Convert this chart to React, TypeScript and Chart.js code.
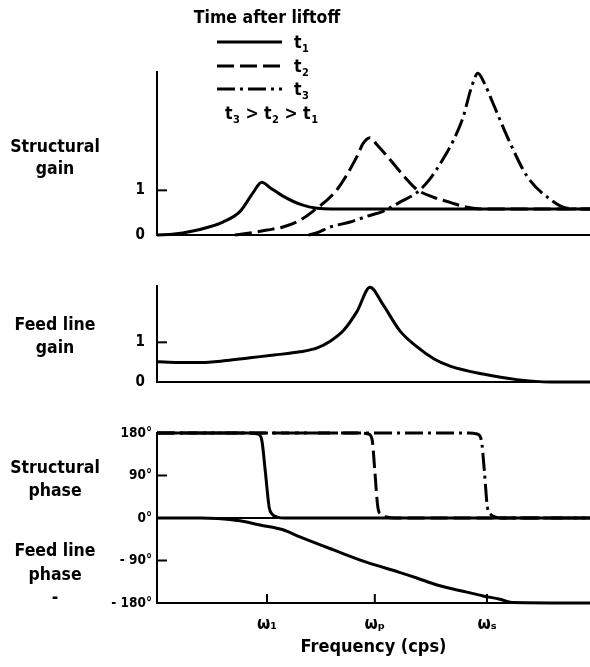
import React, { useEffect, useRef } from "react";
import { Chart, registerables } from "chart.js";

Chart.register(...registerables);

const FONT = "'DejaVu Sans Condensed', 'Liberation Sans Narrow', 'Roboto Condensed', 'DejaVu Sans', sans-serif";

// ---- shared frequency axis ----
const X_MIN = 0;
const X_MAX = 100;
const freqTickValues = [25.4, 50.3, 76.2];
const freqTickLabels = ["ω₁", "ωₚ", "ωₛ"];
const freqTitle = "Frequency (cps)";

// ---- legend ----
const legendTitle = "Time after liftoff";
const seriesSubs = ["1", "2", "3"];

// ---- structural gain ----
const sgTicks = [0, 1];
const sgTickLabels = ["0", "1"];
const sgT1X = [0, 4, 8.3, 12, 15.2, 19.2, 22.2, 24.2, 26.1, 29.1, 33, 37, 45, 100];
const sgT1Y = [0, 0.02, 0.09, 0.18, 0.29, 0.53, 0.95, 1.18, 1.06, 0.87, 0.69, 0.6, 0.58, 0.58];
const sgT2X = [18, 21, 25.4, 29.1, 33, 36, 41.6, 46.2, 47.6, 49.2, 50.8, 53.8, 57, 60, 64, 67.7, 71.6, 75, 100];
const sgT2Y = [0, 0.04, 0.11, 0.18, 0.33, 0.53, 1.02, 1.76, 2.05, 2.18, 2.02, 1.69, 1.32, 1.02, 0.84, 0.73, 0.62, 0.58, 0.58];
const sgT3X = [35, 37, 40, 44.6, 48.5, 52.2, 56, 60, 63, 66, 68.5, 70.7, 72.6, 74.1, 75.6, 77.6, 81.5, 85.5, 90.8, 94.7, 100];
const sgT3Y = [0, 0.05, 0.18, 0.29, 0.42, 0.53, 0.73, 0.95, 1.25, 1.69, 2.13, 2.64, 3.3, 3.62, 3.4, 2.95, 2.07, 1.31, 0.8, 0.6, 0.58];

// ---- feed line gain ----
const fgTicks = [0, 1];
const fgTickLabels = ["0", "1"];
const fgX = [0, 5, 10, 16, 21.5, 27, 33, 37, 40, 43, 46.2, 49.2, 52.2, 56.1, 60, 64, 67.7, 75.3, 83.1, 90.8, 100];
const fgY = [0.51, 0.49, 0.49, 0.54, 0.61, 0.68, 0.76, 0.86, 1.03, 1.29, 1.78, 2.39, 1.95, 1.29, 0.89, 0.58, 0.4, 0.2, 0.06, 0, 0];

// ---- structural phase & feed line phase (degrees) ----
const phTicks = [-180, -90, 0, 90, 180];
const phTickLabels = ["- 180°", "- 90°", "0°", "90°", "180°"];
const spT1X = [0, 21, 23.3, 24.2, 25.0, 25.9, 26.6, 27.8, 29.5, 100];
const spT1Y = [180, 180, 178, 165, 100, 23, 8, 2, 0, 0];
const spT2X = [0, 47, 48.8, 49.7, 50.3, 51.0, 51.7, 53, 55, 100];
const spT2Y = [180, 180, 178, 165, 100, 23, 8, 2, 0, 0];
const spT3X = [0, 72, 73.9, 74.9, 75.6, 76.3, 77.0, 78.2, 80, 100];
const spT3Y = [180, 180, 178, 165, 100, 23, 8, 2, 0, 0];
const fpX = [0, 10, 14, 19.2, 23.8, 29.1, 33, 40.6, 48.5, 56, 60, 64.7, 71.6, 75.3, 79.2, 82, 100];
const fpY = [0, 0, -1, -6, -15, -25, -40, -67, -94, -115, -127, -142, -157, -165, -172, -179, -180];

const DASHES: number[][] = [[], [17, 6], [18, 5, 3, 5]];

const pts = (xs: number[], ys: number[]) => xs.map((x, i) => ({ x, y: ys[i] }));

const lineDs = (label: string, data: any[], dash: number[]) => ({
  label,
  data,
  borderColor: "#000",
  borderWidth: 3,
  borderDash: dash,
  pointRadius: 0,
  fill: false,
  cubicInterpolationMode: "monotone" as const,
  clip: 6,
});

const innerTicksPlugin = (yVals: number[], xVals: number[]) => ({
  id: "innerTicks",
  afterDraw(chart: any) {
    const { ctx, chartArea, scales } = chart;
    ctx.save();
    ctx.strokeStyle = "#000";
    ctx.lineWidth = 2;
    yVals.forEach((v) => {
      const y = scales.y.getPixelForValue(v);
      ctx.beginPath();
      ctx.moveTo(chartArea.left, y);
      ctx.lineTo(chartArea.left + 10, y);
      ctx.stroke();
    });
    xVals.forEach((v) => {
      const x = scales.x.getPixelForValue(v);
      ctx.beginPath();
      ctx.moveTo(x, chartArea.bottom);
      ctx.lineTo(x, chartArea.bottom - 9);
      ctx.stroke();
    });
    ctx.restore();
  },
});

const BIG = 17.5;

const legendPlugin = {
  id: "customLegend",
  afterDraw(chart: any) {
    const { ctx } = chart;
    ctx.save();
    ctx.fillStyle = "#000";
    ctx.strokeStyle = "#000";
    ctx.textBaseline = "alphabetic";
    ctx.font = `bold ${BIG}px ${FONT}`;
    ctx.textAlign = "center";
    ctx.fillText(legendTitle, 267, 23);
    ctx.textAlign = "left";
    const rowsY = [42, 66, 89];
    const drawT = (x: number, y: number, sub: string) => {
      ctx.font = `bold ${BIG}px ${FONT}`;
      ctx.fillText("t", x, y);
      const w = ctx.measureText("t").width;
      ctx.font = `bold 11px ${FONT}`;
      ctx.fillText(sub, x + w + 0.5, y + 4);
      return x + w + 0.5 + ctx.measureText(sub).width;
    };
    chart.data.datasets.forEach((ds: any, i: number) => {
      const y = rowsY[i];
      ctx.lineWidth = 3;
      ctx.setLineDash(ds.borderDash || []);
      ctx.beginPath();
      ctx.moveTo(217, y);
      ctx.lineTo(282, y);
      ctx.stroke();
      ctx.setLineDash([]);
      drawT(294, y + 6, seriesSubs[i]);
    });
    let x = 225;
    const yy = 119;
    x = drawT(x, yy, "3");
    ctx.font = `bold ${BIG}px ${FONT}`;
    ctx.fillText(" > ", x, yy);
    x += ctx.measureText(" > ").width;
    x = drawT(x, yy, "2");
    ctx.font = `bold ${BIG}px ${FONT}`;
    ctx.fillText(" > ", x, yy);
    x += ctx.measureText(" > ").width;
    drawT(x, yy, "1");
    ctx.restore();
  },
};

function yScale(min: number, max: number, ticks: number[], labels: string[], lines: number[], size: number, pad: number) {
  return {
    type: "linear" as const,
    min,
    max,
    afterBuildTicks: (s: any) => {
      s.ticks = ticks.map((v) => ({ value: v }));
    },
    afterFit: (s: any) => {
      s.width = 157;
    },
    border: { display: true, color: "#000", width: 2 },
    grid: {
      drawTicks: false,
      lineWidth: 2,
      color: (c: any) => (c.tick && lines.includes(c.tick.value) ? "#000" : "rgba(0,0,0,0)"),
    },
    ticks: {
      autoSkip: false,
      color: "#000",
      font: { family: FONT, size, weight: "bold" as const },
      padding: pad,
      callback: (v: any) => {
        const i = ticks.indexOf(Number(v));
        return i >= 0 ? labels[i] : "";
      },
    },
  };
}

const hiddenX = { type: "linear" as const, min: X_MIN, max: X_MAX, display: false };

function useChart(ref: React.RefObject<HTMLCanvasElement>, build: () => any) {
  useEffect(() => {
    if (!ref.current) return;
    const chart = new Chart(ref.current, build());
    return () => chart.destroy();
  }, []);
}

const SideLabel = ({ text, cy }: { text: string; cy: number }) => (
  <div
    style={{
      position: "absolute",
      left: 0,
      width: 110,
      top: cy - 11,
      height: 22,
      lineHeight: "22px",
      textAlign: "center",
      fontFamily: FONT,
      fontWeight: "bold",
      fontSize: BIG,
      color: "#000",
    }}
  >
    {text}
  </div>
);

export default function App() {
  const refA = useRef<HTMLCanvasElement>(null);
  const refB = useRef<HTMLCanvasElement>(null);
  const refC = useRef<HTMLCanvasElement>(null);

  useChart(refA, () => ({
    type: "line",
    data: {
      datasets: [
        lineDs("t1", pts(sgT1X, sgT1Y), DASHES[0]),
        lineDs("t2", pts(sgT2X, sgT2Y), DASHES[1]),
        lineDs("t3", pts(sgT3X, sgT3Y), DASHES[2]),
      ],
    },
    options: {
      animation: false,
      responsive: false,
      layout: { padding: { top: 72, bottom: 20, left: 0, right: 0 } },
      plugins: { legend: { display: false }, tooltip: { enabled: false } },
      scales: { x: hiddenX, y: yScale(0, 3.65, sgTicks, sgTickLabels, [0], 15, 12) },
    },
    plugins: [innerTicksPlugin([1], []), legendPlugin],
  }));

  useChart(refB, () => ({
    type: "line",
    data: { datasets: [lineDs("feed line gain", pts(fgX, fgY), DASHES[0])] },
    options: {
      animation: false,
      responsive: false,
      layout: { padding: { top: 20, bottom: 20, left: 0, right: 0 } },
      plugins: { legend: { display: false }, tooltip: { enabled: false } },
      scales: { x: hiddenX, y: yScale(0, 2.42, fgTicks, fgTickLabels, [0], 15, 12) },
    },
    plugins: [innerTicksPlugin([1], [])],
  }));

  useChart(refC, () => ({
    type: "line",
    data: {
      datasets: [
        lineDs("t1", pts(spT1X, spT1Y), DASHES[0]),
        lineDs("t2", pts(spT2X, spT2Y), DASHES[1]),
        lineDs("t3", pts(spT3X, spT3Y), DASHES[2]),
        lineDs("feed line phase", pts(fpX, fpY), DASHES[0]),
      ],
    },
    options: {
      animation: false,
      responsive: false,
      layout: { padding: { top: 20, bottom: 0, left: 0, right: 0 } },
      plugins: { legend: { display: false }, tooltip: { enabled: false } },
      scales: {
        x: {
          type: "linear",
          min: X_MIN,
          max: X_MAX,
          afterBuildTicks: (s: any) => {
            s.ticks = freqTickValues.map((v) => ({ value: v }));
          },
          afterFit: (s: any) => {
            s.height = 64;
          },
          border: { display: true, color: "#000", width: 2 },
          grid: { drawOnChartArea: false, drawTicks: false },
          ticks: {
            autoSkip: false,
            maxRotation: 0,
            color: "#000",
            font: { family: FONT, size: 17, weight: "bold" },
            padding: 11,
            callback: (_v: any, i: number) => freqTickLabels[i],
          },
          title: {
            display: true,
            text: freqTitle,
            color: "#000",
            font: { family: FONT, size: 18, weight: "bold" },
            padding: { top: 0, bottom: 9 },
          },
        },
        y: yScale(-180, 180, phTicks, phTickLabels, [0], 13.5, 5),
      },
    },
    plugins: [innerTicksPlugin([90, -90], freqTickValues)],
  }));

  return (
    <div style={{ position: "fixed", left: 0, top: 0, width: 590, height: 667, background: "#fff", overflow: "hidden" }}>
      <canvas ref={refA} width={590} height={256} style={{ position: "absolute", left: 0, top: 0 }} />
      <canvas ref={refB} width={590} height={138} style={{ position: "absolute", left: 0, top: 265 }} />
      <canvas ref={refC} width={590} height={254} style={{ position: "absolute", left: 0, top: 413 }} />
      <SideLabel text="Structural" cy={146} />
      <SideLabel text="gain" cy={168} />
      <SideLabel text="Feed line" cy={324} />
      <SideLabel text="gain" cy={347} />
      <SideLabel text="Structural" cy={467} />
      <SideLabel text="phase" cy={490} />
      <SideLabel text="Feed line" cy={550} />
      <SideLabel text="phase" cy={574} />
      <SideLabel text="-" cy={597} />
    </div>
  );
}
